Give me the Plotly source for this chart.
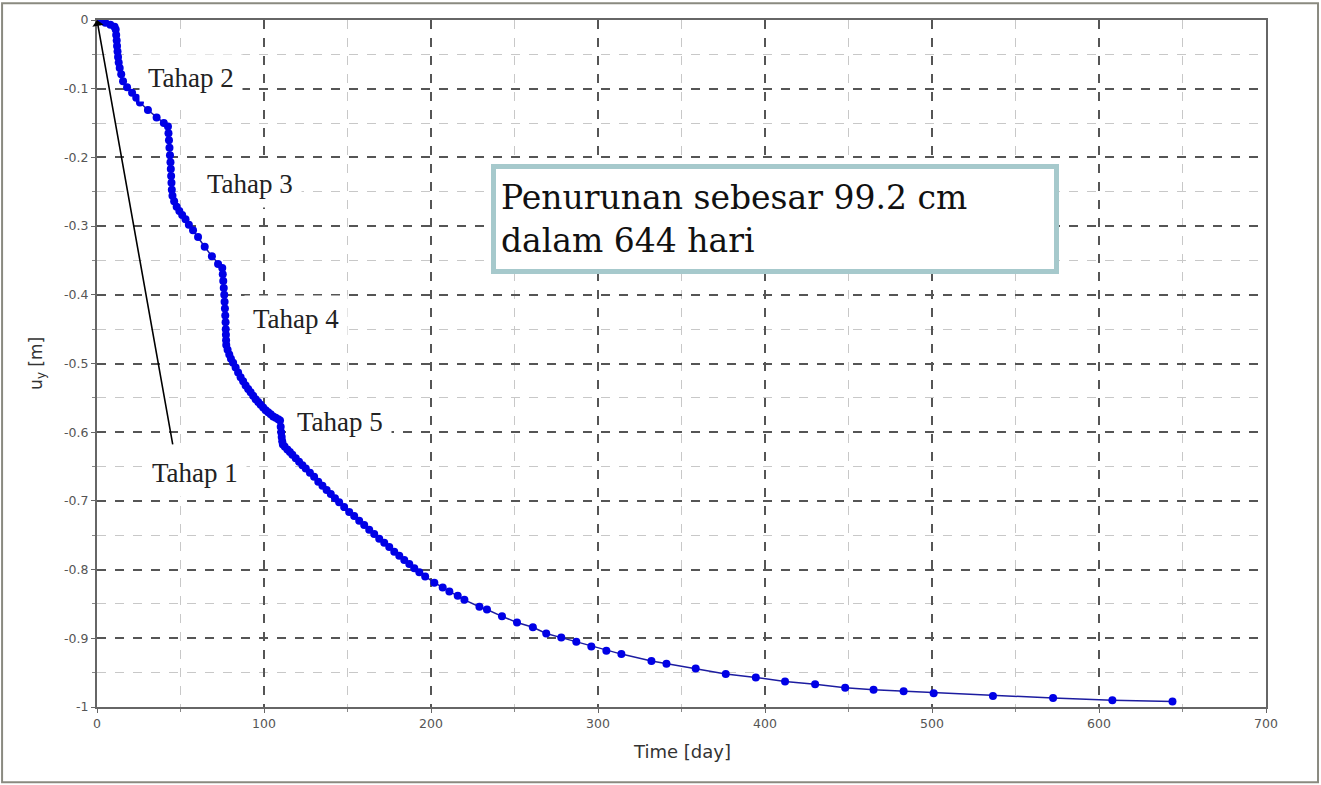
import plotly.graph_objects as go

# ---- data ----
time_day = [0, 2, 5, 8, 10.5, 11.2, 11.5, 11.8, 12.0, 12.3, 12.6, 13.0, 13.6, 14.5, 15.6,
            18, 21, 23.5, 25.7, 30.5, 35.7, 40, 42.5, 42.8, 43.1, 43.4, 43.7, 44.0, 44.2,
            44.4, 44.6, 44.8, 45.2, 46.2, 47.7, 49.3, 51, 53, 55, 57.5, 60.5, 64.5, 68.8,
            72.5, 75.0, 75.3, 75.6, 75.9, 76.2, 76.4, 76.6, 76.8, 77.0, 77.1, 77.2, 77.3,
            77.4, 78.2, 79.2, 80.2, 81.5, 83, 84.5, 86, 87.5, 89, 90.5, 92, 93.5, 95, 96.5,
            98, 99.5, 101, 102.5, 104, 105.5, 107, 108.5, 109.6, 110.0, 110.3, 110.6, 110.9,
            111.3, 112.5, 114, 115.5, 117, 119, 121, 123, 125, 127.5, 130, 132.5, 135, 137.5,
            140, 142.5, 145, 148, 151, 154, 157, 160, 163, 166, 169, 172, 175, 178, 181, 184,
            187, 190, 193, 196.5, 202, 207, 211, 216, 220, 229, 233.5, 242.5, 251.5, 261,
            269, 278, 287, 296, 305, 314, 332, 341, 358.5, 376.5, 394.5, 412, 430, 448, 465,
            483, 501, 536.5, 572.5, 608, 644]
uy_m = [0, -0.002, -0.004, -0.007, -0.010, -0.014, -0.022, -0.030, -0.038, -0.046, -0.054,
        -0.062, -0.070, -0.079, -0.089, -0.098, -0.106, -0.113, -0.120, -0.131, -0.142,
        -0.150, -0.155, -0.165, -0.175, -0.186, -0.197, -0.207, -0.217, -0.227, -0.237,
        -0.247, -0.256, -0.264, -0.272, -0.278, -0.284, -0.290, -0.298, -0.306, -0.316,
        -0.330, -0.344, -0.355, -0.361, -0.370, -0.380, -0.390, -0.400, -0.410, -0.420,
        -0.430, -0.440, -0.450, -0.458, -0.466, -0.473, -0.480, -0.487, -0.493, -0.499,
        -0.506, -0.513, -0.520, -0.526, -0.532, -0.537, -0.542, -0.547, -0.552, -0.556,
        -0.560, -0.564, -0.568, -0.571, -0.574, -0.577, -0.579, -0.581, -0.583, -0.592,
        -0.600, -0.607, -0.613, -0.618, -0.621, -0.625, -0.629, -0.633, -0.638, -0.643,
        -0.648, -0.653, -0.659, -0.665, -0.672, -0.678, -0.684, -0.690, -0.696, -0.702,
        -0.709, -0.716, -0.722, -0.729, -0.735, -0.742, -0.748, -0.755, -0.761, -0.767,
        -0.774, -0.780, -0.786, -0.792, -0.798, -0.804, -0.810, -0.819, -0.826, -0.832,
        -0.838, -0.844, -0.854, -0.858, -0.868, -0.877, -0.884, -0.893, -0.899, -0.905,
        -0.912, -0.918, -0.923, -0.933, -0.937, -0.944, -0.952, -0.957, -0.963, -0.967,
        -0.972, -0.975, -0.977, -0.980, -0.984, -0.987, -0.990, -0.992]

x_ticks = [0, 100, 200, 300, 400, 500, 600, 700]
x_tick_labels = ["0", "100", "200", "300", "400", "500", "600", "700"]
y_ticks = [0, -0.1, -0.2, -0.3, -0.4, -0.5, -0.6, -0.7, -0.8, -0.9, -1]
y_tick_labels = ["0", "-0.1", "-0.2", "-0.3", "-0.4", "-0.5", "-0.6", "-0.7", "-0.8", "-0.9", "-1"]

stage_labels = ["Tahap 1", "Tahap 2", "Tahap 3", "Tahap 4", "Tahap 5"]
stage_x = [58.7, 56, 91.6, 119, 145.5]
stage_y = [-0.659, -0.085, -0.239, -0.435, -0.585]
arrow_tail = (45.5, -0.62)
note_text = "Penurunan sebesar 99.2 cm<br>dalam 644 hari"

fig = go.Figure()
fig.add_trace(go.Scatter(
    x=time_day, y=uy_m, mode="lines+markers",
    line=dict(color="#1c1ca0", width=1.5),
    marker=dict(color="#0000e6", size=8),
    showlegend=False,
))

annotations = []
for lab, lx, ly in zip(stage_labels, stage_x, stage_y):
    annotations.append(dict(
        x=lx, y=ly, xref="x", yref="y", text=lab, showarrow=False,
        font=dict(family="Liberation Serif, Times New Roman, serif", size=27, color="#222"),
        bgcolor="white", borderpad=8,
    ))
annotations.append(dict(
    x=0, y=0, xref="x", yref="y", ax=arrow_tail[0], ay=arrow_tail[1],
    axref="x", ayref="y", text="", showarrow=True,
    arrowhead=1, arrowsize=1.2, arrowwidth=1.6, arrowcolor="black",
))
annotations.append(dict(
    x=236, y=-0.29, xref="x", yref="y", text=note_text, showarrow=False,
    xanchor="left", yanchor="middle", align="left",
    font=dict(family="DejaVu Serif, serif", size=33, color="#111"),
    bgcolor="white", bordercolor="#a6c9cc", borderwidth=5, borderpad=5,
    width=548, height=90,
))
annotations.append(dict(
    x=0.5, y=-0.065, xref="paper", yref="paper", text="Time [day]", showarrow=False,
    xanchor="center", yanchor="middle",
    font=dict(family="DejaVu Sans, Verdana, sans-serif", size=18, color="#333"),
))
annotations.append(dict(
    x=-0.051, y=0.5, xref="paper", yref="paper", text="u<sub>y</sub> [m]", showarrow=False,
    xanchor="center", yanchor="middle", textangle=-90,
    font=dict(family="DejaVu Sans, Verdana, sans-serif", size=17, color="#333"),
))

axis_common = dict(
    showline=True, mirror=True, linecolor="#666", linewidth=2,
    ticks="outside", ticklen=4, tickcolor="#666",
    tickfont=dict(family="DejaVu Sans, Verdana, sans-serif", size=12.5, color="#555"),
    showgrid=True, gridcolor="#555", gridwidth=1.6, griddash="dash",
    zeroline=False,
)

fig.update_layout(
    width=1321, height=785,
    margin=dict(l=97, r=55, t=18, b=78),
    paper_bgcolor="white", plot_bgcolor="white",
    xaxis=dict(range=[0, 700], tickvals=x_ticks, ticktext=x_tick_labels,
               minor=dict(dtick=50, showgrid=True, gridcolor="#c8c8c8", griddash="dash",
                          gridwidth=1, ticks="outside", ticklen=3, tickcolor="#888"),
               **axis_common),
    yaxis=dict(range=[-1, 0], tickvals=y_ticks, ticktext=y_tick_labels,
               minor=dict(dtick=0.05, showgrid=True, gridcolor="#c8c8c8", griddash="dash",
                          gridwidth=1, ticks="outside", ticklen=3, tickcolor="#888"),
               **axis_common),
    annotations=annotations,
    shapes=[dict(type="rect", xref="paper", yref="paper",
                 x0=-0.0812, x1=1.0445, y0=-0.1095, y1=1.0245,
                 line=dict(color="#8a8a80", width=2), layer="above")],
)

fig.write_html("out.html", config={"displayModeBar": False},
               post_script="document.body.style.margin='0';")
